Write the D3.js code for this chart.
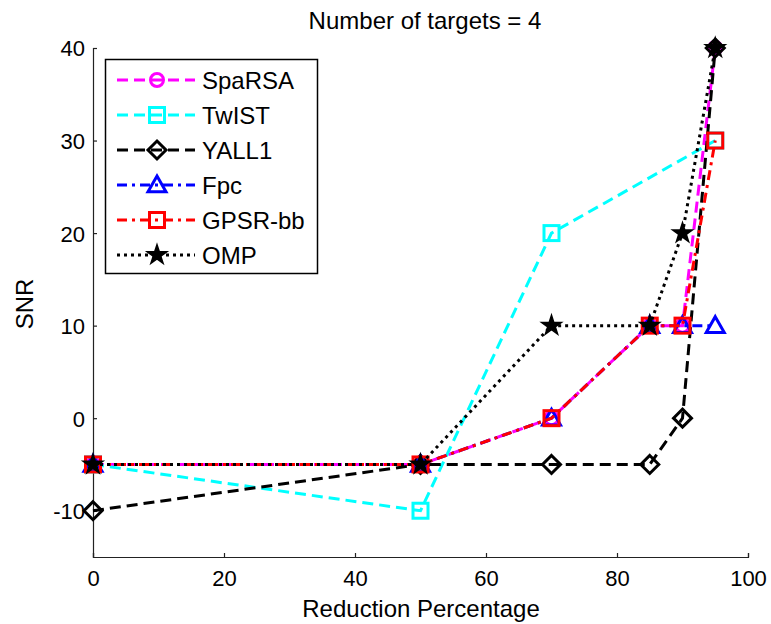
<!DOCTYPE html>
<html>
<head>
<meta charset="utf-8">
<script src="https://cdn.jsdelivr.net/npm/d3@7"></script>
<style>
  html, body { margin: 0; padding: 0; background: #fff; }
  svg { display: block; font-family: "Liberation Sans", Arial, sans-serif; }
</style>
</head>
<body>
<svg id="chart" width="771" height="624"></svg>
<script>
// Reduction percentages on the x axis
const reduction = [0, 50, 70, 85, 90, 95];

// SNR per method (null = no sample at that reduction)
const sparsa = [-5, -5, 0, 10, 10, 40];
const twist  = [-5, -10, 20, null, null, 30];
const yall1  = [-10, -5, -5, -5, 0, 40];
const fpc    = [-5, -5, 0, 10, 10, 10];
const gpsr   = [-5, -5, 0, 10, 10, 30];
const omp    = [-5, -5, 10, 10, 20, 40];

const seriesNames = ["SpaRSA", "TwIST", "YALL1", "Fpc", "GPSR-bb", "OMP"];
const xTicks = [0, 20, 40, 60, 80, 100];
const yTicks = [-10, 0, 10, 20, 30, 40];

const styles = {
  "SpaRSA":  { color: "#ff00ff", dash: "11,6",        marker: "circle" },
  "TwIST":   { color: "#00ffff", dash: "11,6",        marker: "square" },
  "YALL1":   { color: "#000000", dash: "11,6",        marker: "diamond" },
  "Fpc":     { color: "#0000ff", dash: "10,5,3,5",    marker: "triangle" },
  "GPSR-bb": { color: "#ff0000", dash: "10,5,3,5",    marker: "square" },
  "OMP":     { color: "#000000", dash: "3,4",         marker: "star" }
};

const valuesList = [sparsa, twist, yall1, fpc, gpsr, omp];
const series = seriesNames.map((name, i) => ({
  name,
  points: reduction.map((x, j) => ({ x, y: valuesList[i][j] })).filter(p => p.y !== null)
}));

const svg = d3.select("#chart");
const margin = { left: 93, right: 23, top: 48, bottom: 67 };
const W = 771, H = 624;

const x = d3.scaleLinear().domain([0, 100]).range([margin.left, W - margin.right]);
const y = d3.scaleLinear().domain([-15, 40]).range([H - margin.bottom, margin.top]);

// Axes (left and bottom only), ticks pointing inward
const axisColor = "#222";
const plain = d => String(d);
const xAxis = svg.append("g").attr("transform", `translate(0,${y(-15)})`)
  .call(d3.axisBottom(x).tickValues(xTicks).tickSize(-4).tickPadding(13).tickFormat(plain));
const yAxis = svg.append("g").attr("transform", `translate(${x(0)},0)`)
  .call(d3.axisLeft(y).tickValues(yTicks).tickSize(-4).tickPadding(8).tickFormat(plain));

[xAxis, yAxis].forEach(g => {
  g.select(".domain").attr("stroke", axisColor).attr("stroke-width", 1.2);
  g.selectAll(".tick line").attr("stroke", axisColor).attr("stroke-width", 1.2);
  g.selectAll(".tick text").attr("fill", "#000").attr("font-size", 22)
    .attr("font-family", "Liberation Sans, Arial, sans-serif");
});
xAxis.selectAll(".tick text").attr("dy", "0.71em");
yAxis.selectAll(".tick text").attr("dy", "0.36em");

// Titles
svg.append("text").attr("x", 425).attr("y", 29).attr("text-anchor", "middle")
  .attr("font-size", 24).text("Number of targets = 4");
svg.append("text").attr("x", 421).attr("y", 617).attr("text-anchor", "middle")
  .attr("font-size", 24).text("Reduction Percentage");
svg.append("text").attr("transform", `translate(33,304) rotate(-90)`)
  .attr("text-anchor", "middle").attr("font-size", 24).text("SNR");

// Marker drawing
function drawMarker(g, type, color, cx, cy) {
  const sw = 3;
  if (type === "circle") {
    g.append("circle").attr("cx", cx).attr("cy", cy).attr("r", 6.5)
      .attr("fill", "none").attr("stroke", color).attr("stroke-width", sw);
  } else if (type === "square") {
    g.append("rect").attr("x", cx - 7.5).attr("y", cy - 7.5).attr("width", 15).attr("height", 15)
      .attr("fill", "none").attr("stroke", color).attr("stroke-width", sw);
  } else if (type === "diamond") {
    const r = 9;
    g.append("path").attr("d", `M${cx},${cy - r}L${cx + r},${cy}L${cx},${cy + r}L${cx - r},${cy}Z`)
      .attr("fill", "none").attr("stroke", color).attr("stroke-width", sw);
  } else if (type === "triangle") {
    const r = 9;
    g.append("path").attr("d", `M${cx},${cy - r}L${cx + r},${cy + r * 0.75}L${cx - r},${cy + r * 0.75}Z`)
      .attr("fill", "none").attr("stroke", color).attr("stroke-width", sw);
  } else if (type === "star") {
    g.append("path").attr("d", d3.symbol().type(d3.symbolStar).size(120)())
      .attr("transform", `translate(${cx},${cy})`)
      .attr("fill", color).attr("stroke", color).attr("stroke-width", 1.5);
  }
}

const line = d3.line().x(d => x(d.x)).y(d => y(d.y));

series.forEach(s => {
  const st = styles[s.name];
  const g = svg.append("g");
  g.append("path").datum(s.points).attr("d", line)
    .attr("fill", "none").attr("stroke", st.color).attr("stroke-width", 3)
    .attr("stroke-dasharray", st.dash);
  s.points.forEach(p => drawMarker(g, st.marker, st.color, x(p.x), y(p.y)));
});

// Legend
const legend = svg.append("g");
legend.append("rect").attr("x", 105.5).attr("y", 59.5).attr("width", 212).attr("height", 214)
  .attr("fill", "#fff").attr("stroke", "#000").attr("stroke-width", 1.5);
seriesNames.forEach((name, i) => {
  const st = styles[name];
  const cy = 80 + i * 35;
  legend.append("line").attr("x1", 117).attr("x2", 195).attr("y1", cy).attr("y2", cy)
    .attr("stroke", st.color).attr("stroke-width", 3).attr("stroke-dasharray", st.dash);
  drawMarker(legend, st.marker, st.color, 157, cy);
  legend.append("text").attr("x", 202).attr("y", cy).attr("dy", "0.36em")
    .attr("font-size", 24).text(name);
});
</script>
</body>
</html>
